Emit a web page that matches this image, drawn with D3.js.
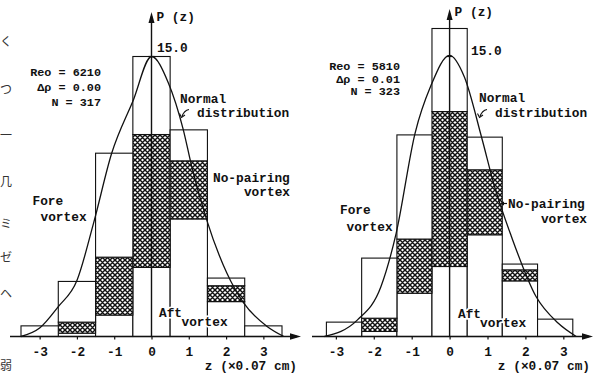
<!DOCTYPE html>
<html>
<head>
<meta charset="utf-8">
<script src="https://cdn.jsdelivr.net/npm/d3@7"></script>
<style>
  body { margin: 0; background: #fff; }
  svg text { font-family: "Liberation Mono", "DejaVu Sans Mono", monospace; font-weight: bold; fill: #111; font-size: 12.8px; }
  svg text.param { font-size: 11.8px; }
  svg text.scan { font-family: "Noto Sans CJK JP", sans-serif; font-weight: normal; font-size: 12px; fill: #333; }
</style>
</head>
<body>
<div id="chart"></div>
<script>
// shared tick labels on the z axis
const zTicks = [-3, -2, -1, 0, 1, 2, 3];

// left panel (Reo = 6210)
const leftBinEdges = [-3.5, -2.5, -1.5, -0.5, 0.5, 1.5, 2.5, 3.5];
const leftAft    = [0, 0.18, 1.15, 3.70, 6.30, 1.87, 0.57];
const leftNoPair = [0, 0.59, 3.10, 7.12, 3.11, 0.85, 0];
const leftFore   = [0.57, 2.18, 5.57, 4.18, 1.66, 0.41, 0];
const leftCurveZ = [-3.5, -3.0, -2.5, -2.0, -1.55, -1.07, -0.5, 0, 0.45, 0.85, 1.08, 1.48, 2.02, 2.47, 3.1, 3.55];
const leftCurveP = [0, 0.45, 1.6, 3.0, 6.1, 9.8, 12.6, 15.0, 13.6, 11.1, 9.1, 6.25, 3.4, 1.8, 0.54, 0];
const leftParams = ["Reo = 6210", "Δρ = 0.00", "N  =  317"];

// right panel (Reo = 5810)
const rightBinEdges = [-3.25, -2.32, -1.39, -0.465, 0.465, 1.39, 2.32, 3.25];
const rightAft    = [0, 0.27, 2.32, 3.75, 5.45, 2.98, 0.93];
const rightNoPair = [0, 0.71, 2.90, 8.30, 3.48, 0.59, 0];
const rightFore   = [0.77, 3.22, 5.58, 4.45, 1.75, 0.31, 0];
const rightCurveZ = [-3.3, -2.43, -1.81, -1.41, -0.91, -0.5, 0, 0.39, 0.84, 1.19, 1.63, 2.28, 2.86, 3.34];
const rightCurveP = [0, 0.89, 2.68, 5.53, 10.9, 13.4, 15.06, 13.9, 10.7, 8.0, 5.36, 2.14, 0.72, 0];
const rightParams = ["Reo = 5810", "Δρ = 0.01", "N  =  323"];

const peakLabel = "15.0";
const width = 595, height = 378;
const baseY = 336.5, topY15 = 56.5;
const ink = "#111";

const svg = d3.select("#chart").append("svg")
  .attr("width", width)
  .attr("height", height);

// crosshatch for the no-pairing part
const tile = 5;
const pat = svg.append("defs").append("pattern")
  .attr("id", "hatch")
  .attr("patternUnits", "userSpaceOnUse")
  .attr("width", tile).attr("height", tile);
pat.append("rect").attr("width", tile).attr("height", tile).attr("fill", "#fff");
pat.append("path")
  .attr("d", `M0,0L${tile},${tile}M${tile},0L0,${tile}M-1,${tile - 1}L1,${tile + 1}M${tile - 1},-1L${tile + 1},1M${tile - 1},${tile + 1}L${tile + 1},${tile - 1}M-1,1L1,-1`)
  .attr("stroke", ink).attr("stroke-width", 1.45);

function arrowHead(g, tipX, tipY, dir) {
  // dir: "right" or "up"
  let pts;
  if (dir === "right") pts = [[tipX, tipY], [tipX - 11, tipY - 3.3], [tipX - 11, tipY + 3.3]];
  else pts = [[tipX, tipY], [tipX - 3, tipY + 11], [tipX + 3, tipY + 11]];
  g.append("polygon").attr("points", pts.map(p => p.join(",")).join(" ")).attr("fill", ink);
}

function drawPanel(cfg) {
  const x = d3.scaleLinear().domain(cfg.xDomain).range(cfg.xRange);
  const y = d3.scaleLinear().domain([0, 15]).range([baseY, topY15]);
  const g = svg.append("g");

  const rows = cfg.aft.map((d, i) => ({
    x0: cfg.edges[i], x1: cfg.edges[i + 1],
    aft: d, noPair: cfg.noPair[i], fore: cfg.fore[i]
  }));
  const series = d3.stack().keys(["aft", "noPair", "fore"])(rows);

  series.forEach(s => {
    g.selectAll(null)
      .data(s.filter(d => d[1] - d[0] > 0))
      .enter().append("rect")
      .attr("x", d => x(d.data.x0))
      .attr("width", d => x(d.data.x1) - x(d.data.x0))
      .attr("y", d => y(d[1]))
      .attr("height", d => y(d[0]) - y(d[1]))
      .attr("fill", s.key === "noPair" ? "url(#hatch)" : "#fff")
      .attr("stroke", ink)
      .attr("stroke-width", 1.1);
  });

  // normal distribution curve
  const line = d3.line()
    .x(d => x(d[0]))
    .y(d => y(d[1]))
    .curve(d3.curveMonotoneX);
  g.append("path")
    .datum(cfg.curveZ.map((z, i) => [z, cfg.curveP[i]]))
    .attr("d", line)
    .attr("fill", "none")
    .attr("stroke", ink)
    .attr("stroke-width", 1.3);

  // x axis with arrow
  g.append("line")
    .attr("x1", cfg.axisX0).attr("x2", cfg.axisX1 - 4)
    .attr("y1", baseY).attr("y2", baseY)
    .attr("stroke", ink).attr("stroke-width", 1.3);
  arrowHead(g, cfg.axisX1, baseY, "right");

  const xAxis = d3.axisBottom(x)
    .tickValues(zTicks)
    .tickSize(3)
    .tickPadding(7)
    .tickFormat(d => d < 0 ? "-" + (-d) : "" + d);
  g.append("g")
    .attr("transform", `translate(0,${baseY})`)
    .call(xAxis)
    .call(a => a.select(".domain").remove())
    .call(a => a.selectAll("line").attr("stroke", ink).attr("stroke-width", 1.2));

  // y axis with arrow
  const x0 = x(0);
  g.append("line")
    .attr("x1", x0).attr("x2", x0)
    .attr("y1", baseY).attr("y2", cfg.axisTop + 4)
    .attr("stroke", ink).attr("stroke-width", 1.4);
  arrowHead(g, x0, cfg.axisTop, "up");
  g.append("line")
    .attr("x1", x0 - 3).attr("x2", x0 + 3)
    .attr("y1", y(15)).attr("y2", y(15))
    .attr("stroke", ink).attr("stroke-width", 1.2);

  g.append("text").attr("x", x0 + 5).attr("y", cfg.pzY).text("P (z)");
  g.append("text").attr("x", cfg.peakX).attr("y", cfg.peakY).text(peakLabel);

  // parameters
  cfg.params.forEach((t, i) => {
    g.append("text").attr("class", "param")
      .attr("x", cfg.paramEnd).attr("y", cfg.paramY0 + i * cfg.paramStep)
      .attr("text-anchor", "end")
      .text(t);
  });

  // labels
  const L = cfg.labels;
  g.append("text").attr("x", L.normal[0]).attr("y", L.normal[1]).text("Normal");
  g.append("text").attr("x", L.dist[0]).attr("y", L.dist[1]).text("distribution");
  g.append("path")
    .attr("d", `M${L.dist[0] - 8},${L.dist[1] - 7} Q${L.dist[0] - 13},${L.dist[1] - 6} ${L.dist[0] - 15},${L.dist[1]}`)
    .attr("fill", "none").attr("stroke", ink).attr("stroke-width", 1.1);
  g.append("path")
    .attr("d", `M${L.dist[0] - 17.5},${L.dist[1] - 3} L${L.dist[0] - 15.5},${L.dist[1] + 1} L${L.dist[0] - 12},${L.dist[1] - 1.5}`)
    .attr("fill", "none").attr("stroke", ink).attr("stroke-width", 1.1);

  g.append("text").attr("x", L.nopair[0]).attr("y", L.nopair[1]).text("No-pairing");
  g.append("text").attr("x", L.nopairV[0]).attr("y", L.nopairV[1]).attr("text-anchor", "end").text("vortex");
  if (L.nopairArrow) {
    g.append("line")
      .attr("x1", L.nopair[0] - 1).attr("x2", L.nopair[0] - 7)
      .attr("y1", L.nopair[1] - 4).attr("y2", L.nopair[1] - 4)
      .attr("stroke", ink).attr("stroke-width", 1.2);
    g.append("polygon")
      .attr("points", `${L.nopair[0] - 8},${L.nopair[1] - 4} ${L.nopair[0] - 4},${L.nopair[1] - 6} ${L.nopair[0] - 4},${L.nopair[1] - 2}`)
      .attr("fill", ink);
  }

  g.append("text").attr("x", L.fore[0]).attr("y", L.fore[1]).text("Fore");
  g.append("text").attr("x", L.foreV[0]).attr("y", L.foreV[1]).text("vortex");

  [["Aft", L.aft], ["vortex", L.aftV]].forEach(([t, p]) => {
    g.append("text").attr("x", p[0]).attr("y", p[1])
      .attr("stroke", "#fff").attr("stroke-width", 3).attr("paint-order", "stroke")
      .text(t);
  });

  g.append("text").attr("x", cfg.zLabelEnd).attr("y", 369.5)
    .attr("text-anchor", "end").text("z (×0.07 cm)");
}

drawPanel({
  xDomain: [-3.5, 3.5], xRange: [21, 282],
  edges: leftBinEdges, aft: leftAft, noPair: leftNoPair, fore: leftFore,
  curveZ: leftCurveZ, curveP: leftCurveP,
  axisX0: 10, axisX1: 301, axisTop: 12,
  pzY: 21, peakX: 157, peakY: 52,
  params: leftParams, paramEnd: 101, paramY0: 75.5, paramStep: 15,
  zLabelEnd: 297,
  labels: {
    normal: [180, 102.5], dist: [197, 116.5],
    nopair: [213, 181.5], nopairV: [290, 195.5],
    fore: [32.5, 204.5], foreV: [40.5, 221],
    aft: [159, 317], aftV: [181.5, 325.5]
  }
});

drawPanel({
  xDomain: [-3.25, 3.25], xRange: [326.4, 572.8],
  edges: rightBinEdges, aft: rightAft, noPair: rightNoPair, fore: rightFore,
  curveZ: rightCurveZ, curveP: rightCurveP,
  axisX0: 312, axisX1: 593, axisTop: 9,
  pzY: 15.5, peakX: 471, peakY: 54.5,
  params: rightParams, paramEnd: 400, paramY0: 70, paramStep: 12.5,
  zLabelEnd: 590,
  labels: {
    normal: [479, 102], dist: [495, 116.5],
    nopair: [508, 207.5], nopairV: [587, 222.5], nopairArrow: true,
    fore: [340, 213.5], foreV: [346.5, 230.5],
    aft: [458, 318], aftV: [480, 327]
  }
});

// fragments of the neighbouring page caught by the scan, at the left edge
const scanGlyphs = [["く", 46], ["つ", 94], ["一", 140], ["几", 186], ["ミ", 228], ["ゼ", 262], ["ヘ", 298], ["弱", 370]];
svg.selectAll("text.scan")
  .data(scanGlyphs)
  .enter().append("text")
  .attr("class", "scan")
  .attr("x", 0)
  .attr("y", d => d[1])
  .text(d => d[0]);
</script>
</body>
</html>
